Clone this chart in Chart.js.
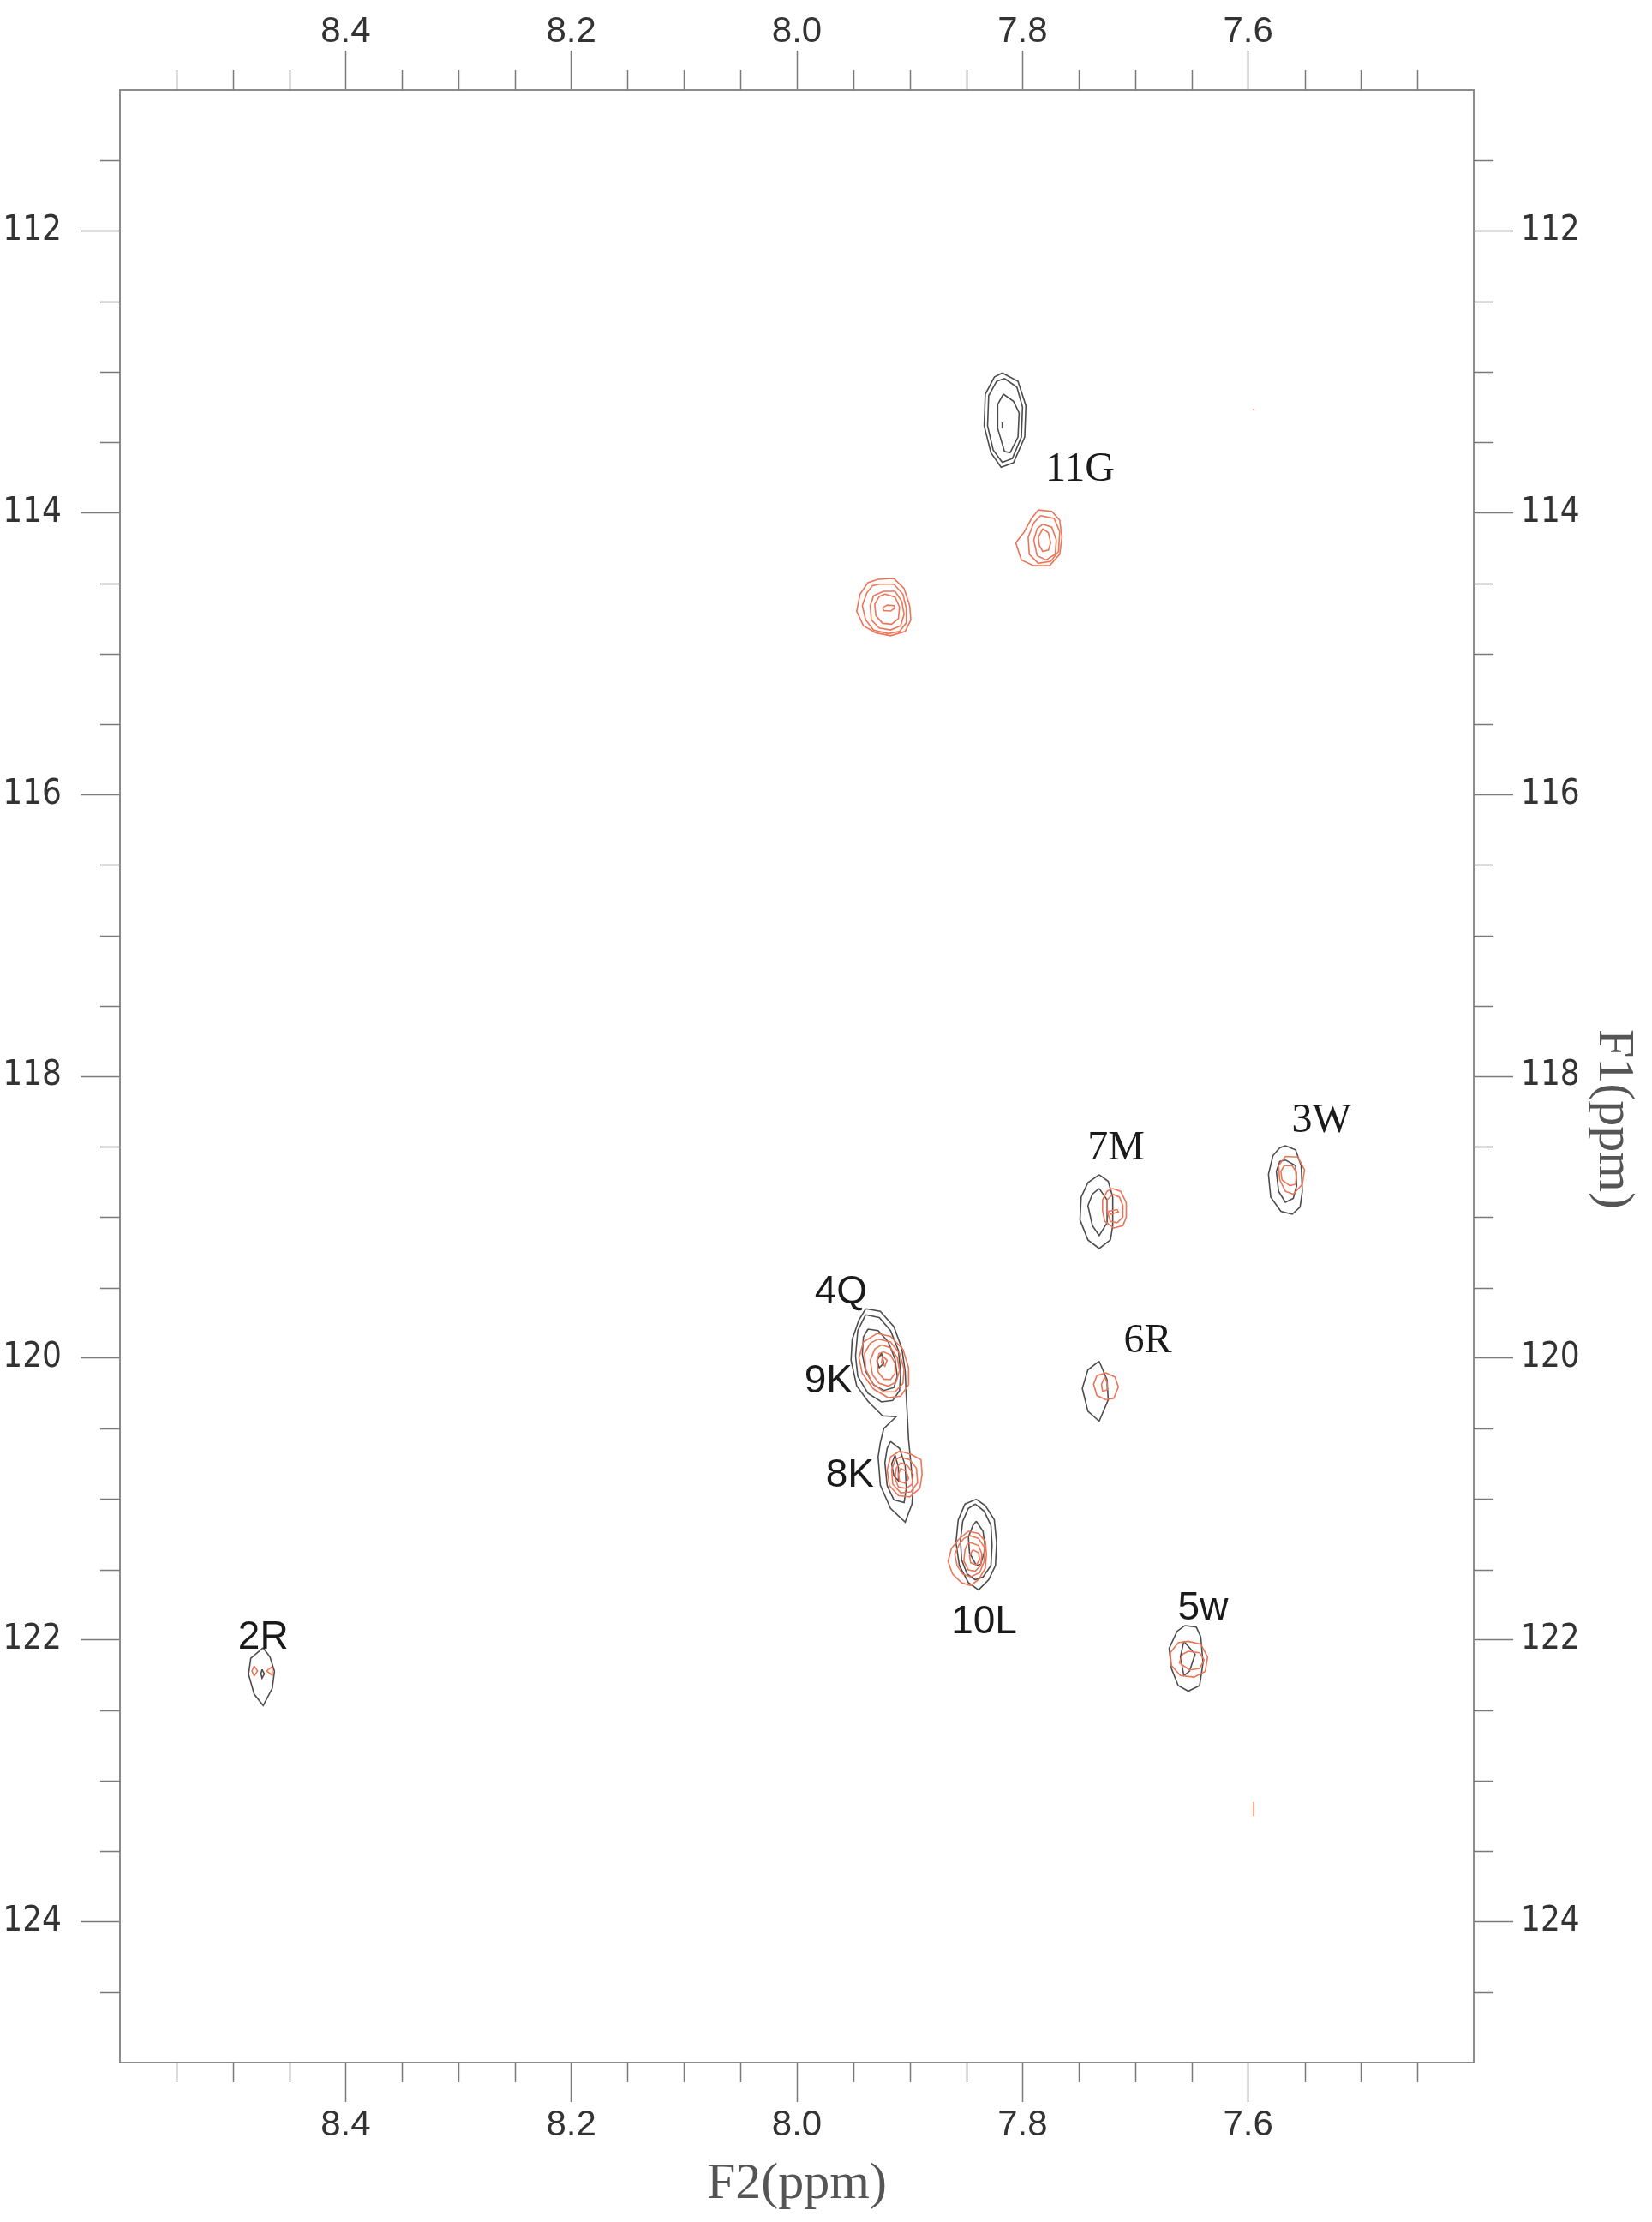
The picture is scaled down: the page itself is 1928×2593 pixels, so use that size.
<!DOCTYPE html>
<html>
<head>
<meta charset="utf-8">
<title>HSQC overlay</title>
<script src="https://cdn.jsdelivr.net/npm/chart.js@4.4.1/dist/chart.umd.min.js"></script>
<style>
  html, body { margin: 0; padding: 0; background: #ffffff; }
</style>
</head>
<body>
<canvas id="hsqc" width="1928" height="2593"></canvas>
<script>
// axis ranges (ppm), both axes run "backwards" like a normal NMR plot
const xMin = 7.4, xMax = 8.6;
const yMin = 111, yMax = 125;
const xMajorTicks = [8.4, 8.2, 8.0, 7.8, 7.6];
const yMajorTicks = [112, 114, 116, 118, 120, 122, 124];

// contour polygons, flat [x, y, x, y, ...] in ppm (F2, F1), outer ring first
const blk11G = [
    [7.818,113.008, 7.804,113.068, 7.797,113.241, 7.798,113.464, 7.808,113.646, 7.819,113.677, 7.828,113.575, 7.834,113.383, 7.833,113.159, 7.825,113.038],
    [7.816,113.048, 7.805,113.109, 7.800,113.251, 7.801,113.464, 7.809,113.616, 7.818,113.642, 7.826,113.555, 7.831,113.383, 7.830,113.170, 7.823,113.068],
    [7.817,113.159, 7.808,113.210, 7.803,113.292, 7.804,113.464, 7.811,113.575, 7.816,113.565, 7.822,113.403, 7.822,113.231],
    [7.818,113.360, 7.818,113.400]
];
const red11G = [
    [7.786,113.981, 7.774,113.991, 7.767,114.052, 7.765,114.174, 7.767,114.295, 7.776,114.376, 7.790,114.376, 7.801,114.335, 7.806,114.214, 7.799,114.143, 7.792,114.041],
    [7.784,114.021, 7.772,114.041, 7.767,114.133, 7.768,114.275, 7.775,114.345, 7.786,114.359, 7.794,114.295, 7.795,114.174, 7.790,114.072],
    [7.782,114.082, 7.774,114.103, 7.770,114.194, 7.771,114.295, 7.779,114.335, 7.787,114.305, 7.790,114.194, 7.787,114.113],
    [7.782,114.113, 7.777,114.143, 7.775,114.214, 7.777,114.265, 7.782,114.275, 7.785,114.234, 7.786,114.174]
];
const red114 = [
    [7.928,114.473, 7.914,114.467, 7.905,114.538, 7.900,114.660, 7.899,114.761, 7.904,114.842, 7.917,114.873, 7.930,114.852, 7.941,114.802, 7.947,114.700, 7.944,114.578, 7.937,114.497],
    [7.927,114.508, 7.914,114.508, 7.906,114.578, 7.903,114.680, 7.903,114.782, 7.909,114.842, 7.919,114.858, 7.932,114.833, 7.939,114.761, 7.942,114.660, 7.938,114.569, 7.933,114.518],
    [7.923,114.558, 7.913,114.558, 7.907,114.630, 7.905,114.721, 7.908,114.802, 7.917,114.832, 7.927,114.818, 7.934,114.761, 7.935,114.660, 7.932,114.589],
    [7.922,114.578, 7.913,114.599, 7.909,114.670, 7.910,114.751, 7.916,114.791, 7.924,114.785, 7.930,114.730, 7.931,114.650, 7.927,114.595],
    [7.924,114.674, 7.920,114.656, 7.914,114.659, 7.913,114.677, 7.917,114.698, 7.923,114.695]
];
const blk7M = [
    [7.732,118.699, 7.724,118.745, 7.720,118.857, 7.720,119.060, 7.722,119.161, 7.732,119.222, 7.742,119.161, 7.749,119.019, 7.748,118.857, 7.742,118.755],
    [7.732,118.796, 7.725,118.877, 7.725,119.039, 7.732,119.130, 7.738,119.060, 7.742,118.918, 7.738,118.836]
];
const red7M = [
    [7.720,118.796, 7.713,118.816, 7.708,118.897, 7.708,118.999, 7.711,119.060, 7.719,119.076, 7.727,119.029, 7.729,118.958, 7.729,118.877, 7.725,118.816],
    [7.720,118.836, 7.714,118.857, 7.711,118.918, 7.711,118.999, 7.716,119.039, 7.722,119.029, 7.725,118.958, 7.725,118.877],
    [7.724,118.958, 7.716,118.946, 7.715,118.962, 7.722,118.979]
];
const blk3W = [
    [7.567,118.492, 7.558,118.522, 7.553,118.634, 7.552,118.816, 7.554,118.928, 7.561,118.979, 7.571,118.958, 7.580,118.857, 7.582,118.695, 7.578,118.563, 7.572,118.508],
    [7.567,118.594, 7.558,118.634, 7.557,118.776, 7.560,118.867, 7.567,118.894, 7.573,118.816, 7.575,118.675, 7.572,118.604]
];
const red3W = [
    [7.567,118.569, 7.556,118.573, 7.550,118.664, 7.552,118.766, 7.560,118.836, 7.567,118.816, 7.572,118.735, 7.573,118.634],
    [7.568,118.634, 7.561,118.634, 7.557,118.684, 7.558,118.766, 7.563,118.776, 7.570,118.735, 7.571,118.675]
];
const blk4Q8K = [
    [7.939,119.650, 7.926,119.668, 7.914,119.777, 7.907,119.930, 7.904,120.094, 7.903,120.276, 7.902,120.428, 7.901,120.580, 7.899,120.745, 7.897,120.927, 7.898,121.037, 7.904,121.164,
     7.917,121.067, 7.926,120.903, 7.928,120.702, 7.926,120.599, 7.923,120.501, 7.912,120.416, 7.924,120.410, 7.937,120.307, 7.947,120.197, 7.952,120.014, 7.951,119.868, 7.945,119.729],
    [7.939,119.692, 7.927,119.712, 7.917,119.804, 7.910,119.946, 7.908,120.108, 7.909,120.230, 7.915,120.301, 7.925,120.311, 7.937,120.250, 7.946,120.129, 7.948,119.986, 7.946,119.804],
    [7.937,119.794, 7.928,119.804, 7.919,119.885, 7.913,120.007, 7.911,120.129, 7.914,120.209, 7.923,120.230, 7.932,120.189, 7.939,120.094, 7.942,119.972, 7.941,119.850],
    [7.925,119.966, 7.923,120.037, 7.927,120.068, 7.929,120.017],
    [7.917,120.591, 7.909,120.641, 7.904,120.763, 7.903,120.925, 7.905,121.026, 7.914,121.006, 7.920,120.905, 7.922,120.743, 7.920,120.641],
    [7.913,120.690, 7.910,120.775, 7.910,120.872, 7.914,120.836, 7.916,120.751]
];
const red9K = [
    [7.929,119.825, 7.917,119.845, 7.906,119.936, 7.901,120.068, 7.901,120.189, 7.908,120.270, 7.919,120.281, 7.932,120.220, 7.942,120.108, 7.945,119.997, 7.941,119.885],
    [7.928,119.865, 7.917,119.885, 7.909,119.966, 7.905,120.078, 7.906,120.179, 7.913,120.240, 7.923,120.240, 7.933,120.179, 7.939,120.078, 7.940,119.966, 7.935,119.895],
    [7.925,119.906, 7.917,119.926, 7.911,119.997, 7.909,120.088, 7.912,120.169, 7.919,120.199, 7.927,120.179, 7.933,120.118, 7.935,120.017, 7.931,119.936],
    [7.923,119.956, 7.917,119.977, 7.913,120.037, 7.913,120.108, 7.917,120.153, 7.923,120.149, 7.928,120.098, 7.929,120.017, 7.927,119.966],
    [7.924,119.986, 7.920,120.015, 7.922,120.057, 7.925,120.033]
];
const red8K = [
    [7.909,120.661, 7.899,120.682, 7.890,120.722, 7.889,120.824, 7.891,120.925, 7.900,120.986, 7.910,120.976, 7.918,120.905, 7.920,120.793, 7.917,120.702],
    [7.909,120.702, 7.900,120.722, 7.894,120.783, 7.893,120.884, 7.899,120.950, 7.908,120.956, 7.915,120.895, 7.916,120.793, 7.913,120.726],
    [7.908,120.743, 7.902,120.763, 7.897,120.824, 7.898,120.895, 7.903,120.925, 7.910,120.915, 7.913,120.854, 7.912,120.783],
    [7.908,120.783, 7.903,120.804, 7.901,120.854, 7.904,120.889, 7.909,120.874, 7.910,120.824]
];
const blk10L = [
    [7.841,121.002, 7.833,121.047, 7.825,121.148, 7.823,121.310, 7.824,121.472, 7.830,121.573, 7.839,121.645, 7.848,121.594, 7.856,121.472, 7.859,121.310, 7.857,121.148, 7.851,121.036],
    [7.842,121.036, 7.834,121.087, 7.828,121.188, 7.827,121.330, 7.828,121.472, 7.835,121.553, 7.842,121.573, 7.849,121.533, 7.854,121.432, 7.855,121.290, 7.853,121.158, 7.848,121.067],
    [7.841,121.158, 7.835,121.229, 7.833,121.351, 7.837,121.462, 7.841,121.472, 7.847,121.381, 7.848,121.270, 7.844,121.188]
];
const red10L = [
    [7.848,121.229, 7.839,121.245, 7.833,121.300, 7.832,121.391, 7.833,121.492, 7.839,121.573, 7.846,121.614, 7.854,121.594, 7.862,121.533, 7.866,121.442, 7.863,121.351, 7.857,121.290],
    [7.847,121.259, 7.839,121.280, 7.834,121.340, 7.834,121.442, 7.838,121.523, 7.846,121.553, 7.853,121.533, 7.858,121.472, 7.860,121.391, 7.856,121.320, 7.852,121.280],
    [7.846,121.310, 7.839,121.330, 7.836,121.391, 7.837,121.472, 7.842,121.513, 7.848,121.503, 7.852,121.442, 7.851,121.361, 7.849,121.320],
    [7.844,121.361, 7.839,121.381, 7.838,121.432, 7.841,121.468, 7.846,121.452, 7.847,121.401]
];
const blk6R = [
    [7.732,120.022, 7.725,120.154, 7.724,120.296, 7.732,120.448, 7.742,120.377, 7.747,120.215, 7.742,120.083]
];
const red6R = [
    [7.726,120.104, 7.718,120.134, 7.715,120.205, 7.719,120.286, 7.726,120.296, 7.734,120.266, 7.737,120.185, 7.734,120.124],
    [7.727,120.134, 7.725,120.175, 7.725,120.226, 7.729,120.236, 7.730,120.185]
];
const blk5w = [
    [7.656,121.898, 7.646,121.908, 7.642,121.979, 7.640,122.162, 7.643,122.324, 7.653,122.364, 7.662,122.324, 7.668,122.203, 7.670,122.060, 7.663,121.939],
    [7.657,122.010, 7.647,122.101, 7.652,122.223, 7.657,122.253, 7.660,122.121]
];
const red5w = [
    [7.653,122.010, 7.642,122.030, 7.636,122.121, 7.638,122.223, 7.648,122.264, 7.660,122.253, 7.668,122.182, 7.669,122.091, 7.662,122.020],
    [7.653,122.081, 7.643,122.091, 7.639,122.142, 7.643,122.203, 7.652,122.213, 7.661,122.162, 7.658,122.101]
];
const blk2R = [
    [8.473,122.056, 8.467,122.121, 8.463,122.223, 8.465,122.344, 8.473,122.466, 8.481,122.385, 8.486,122.243, 8.484,122.131],
    [8.474,122.210, 8.472,122.241, 8.474,122.271, 8.475,122.241]
];
const red2R = [
    [8.481,122.186, 8.478,122.220, 8.481,122.255, 8.483,122.220],
    [8.465,122.190, 8.465,122.251, 8.470,122.220]
];
const redSpecks = [
    [7.595,113.262, 7.595,113.276],
    [7.595,123.150, 7.595,123.250]
];

// peak assignments and where their labels sit (ppm)
const labelText = ['11G', '7M', '3W', '6R', '4Q', '9K', '8K', '10L', '5w', '2R'];
const labelX = [7.749, 7.717, 7.535, 7.689, 7.961, 7.972, 7.953, 7.834, 7.640, 8.473];
const labelY = [113.695, 118.512, 118.318, 119.881, 119.534, 120.167, 120.836, 121.876, 121.779, 121.985];

const BLACK = '#4d4d4d';
const RED = '#ec7558';
const frameColor = '#8c8c8c';
const tickColor = '#7a7a7a';
const serifLabels = new Set(['11G', '7M', '3W', '6R']);

// red spectrum listed first so it ends up drawn over the black one
const redGroups = [red11G, red114, red7M, red3W, red9K, red8K, red10L, red6R, red5w, red2R, redSpecks];
const blackGroups = [blk11G, blk7M, blk3W, blk4Q8K, blk10L, blk6R, blk5w, blk2R];

function toPoints(flat) {
    const pts = [];
    for (let i = 0; i < flat.length; i += 2) {
        pts.push({ x: flat[i], y: flat[i + 1] });
    }
    pts.push({ x: flat[0], y: flat[1] }); // close the ring
    return pts;
}

const datasets = [];
function addGroups(groups, color) {
    groups.forEach((group) => {
        group.forEach((ring) => {
            datasets.push({
                data: toPoints(ring),
                showLine: true,
                borderColor: color,
                borderWidth: 1.6,
                pointRadius: 0,
                pointHoverRadius: 0,
                fill: false,
                tension: 0,
            });
        });
    });
}
addGroups(redGroups, RED);
addGroups(blackGroups, BLACK);

const xTickFont = { family: '"Liberation Sans", Arial, sans-serif', size: 42, lineHeight: 1 };
const yTickFont = { family: '"Liberation Sans Narrow", "DejaVu Sans Condensed", Roboto, sans-serif', size: 40, lineHeight: 1 };

function ppmAxis(axis, position, min, max, majors, fmt, size, pad) {
    const horizontal = axis === 'x';
    return {
        type: 'linear',
        axis: axis,
        position: position,
        min: min,
        max: max,
        reverse: true,
        afterBuildTicks: (s) => { s.ticks = majors.map((v) => ({ value: v })); },
        afterFit: (s) => { if (horizontal) s.height = size; else s.width = size; },
        ticks: {
            autoSkip: false,
            maxRotation: 0,
            padding: pad,
            color: '#333333',
            font: horizontal ? xTickFont : yTickFont,
            callback: fmt,
        },
        grid: { drawOnChartArea: false, drawTicks: true, tickLength: 46, tickColor: tickColor, tickWidth: 1.5 },
        border: { display: true, color: frameColor, width: 2 },
    };
}

const fmtX = (v) => Number(v).toFixed(1);
const fmtY = (v) => String(v);

const xBottom = ppmAxis('x', 'bottom', xMin, xMax, xMajorTicks, fmtX, 186, 6);
xBottom.title = {
    display: true,
    text: 'F2(ppm)',
    color: '#555555',
    font: { family: '"Liberation Serif", "Times New Roman", serif', size: 60 },
    padding: { top: 0, bottom: 8 },
};

// short minor ticks, every 0.05 ppm on F2 and 0.5 ppm on F1
const minorTicks = {
    id: 'minorTicks',
    afterDraw(chart) {
        const ctx = chart.ctx;
        const a = chart.chartArea;
        const len = 23;
        ctx.save();
        ctx.strokeStyle = tickColor;
        ctx.lineWidth = 1.5;
        ctx.beginPath();
        for (let i = 149; i <= 171; i++) {
            if (i % 4 === 0) continue;
            const px = Math.round(chart.scales.x.getPixelForValue(i / 20)) + 0.5;
            ctx.moveTo(px, a.bottom); ctx.lineTo(px, a.bottom + len);
            ctx.moveTo(px, a.top - len); ctx.lineTo(px, a.top);
        }
        for (let i = 223; i <= 249; i++) {
            if (i % 4 === 0) continue;
            const py = Math.round(chart.scales.y.getPixelForValue(i / 2)) + 0.5;
            ctx.moveTo(a.left - len, py); ctx.lineTo(a.left, py);
            ctx.moveTo(a.right, py); ctx.lineTo(a.right + len, py);
        }
        ctx.stroke();
        ctx.restore();
    }
};

// residue labels next to the peaks
const peakLabels = {
    id: 'peakLabels',
    afterDatasetsDraw(chart) {
        const ctx = chart.ctx;
        const sx = chart.scales.x, sy = chart.scales.y;
        ctx.save();
        ctx.fillStyle = '#1a1a1a';
        ctx.textAlign = 'center';
        ctx.textBaseline = 'middle';
        labelText.forEach((t, i) => {
            ctx.font = serifLabels.has(t)
                ? '48px "Liberation Serif", "Times New Roman", serif'
                : '46px "Liberation Sans", Arial, sans-serif';
            ctx.fillText(t, sx.getPixelForValue(labelX[i]), sy.getPixelForValue(labelY[i]));
        });
        ctx.restore();
    }
};

// F1 title on the right, reading top to bottom
const f1Title = {
    id: 'f1Title',
    afterDraw(chart) {
        const ctx = chart.ctx;
        const a = chart.chartArea;
        const right = chart.scales.y2.right;
        ctx.save();
        ctx.translate(right - 45, (a.top + a.bottom) / 2 + 50);
        ctx.rotate(Math.PI / 2);
        ctx.fillStyle = '#555555';
        ctx.font = '60px "Liberation Serif", "Times New Roman", serif';
        ctx.textAlign = 'center';
        ctx.textBaseline = 'middle';
        ctx.fillText('F1(ppm)', 0, 0);
        ctx.restore();
    }
};

new Chart(document.getElementById('hsqc').getContext('2d'), {
    type: 'scatter',
    data: { datasets: datasets },
    options: {
        responsive: false,
        animation: false,
        devicePixelRatio: 1,
        layout: { padding: 0 },
        plugins: {
            legend: { display: false },
            tooltip: { enabled: false },
        },
        scales: {
            x: xBottom,
            x2: ppmAxis('x', 'top', xMin, xMax, xMajorTicks, fmtX, 105, 1),
            y: ppmAxis('y', 'left', yMin, yMax, yMajorTicks, fmtY, 140, 22),
            y2: ppmAxis('y', 'right', yMin, yMax, yMajorTicks, fmtY, 208, 9),
        },
    },
    plugins: [minorTicks, peakLabels, f1Title],
});
</script>
</body>
</html>
